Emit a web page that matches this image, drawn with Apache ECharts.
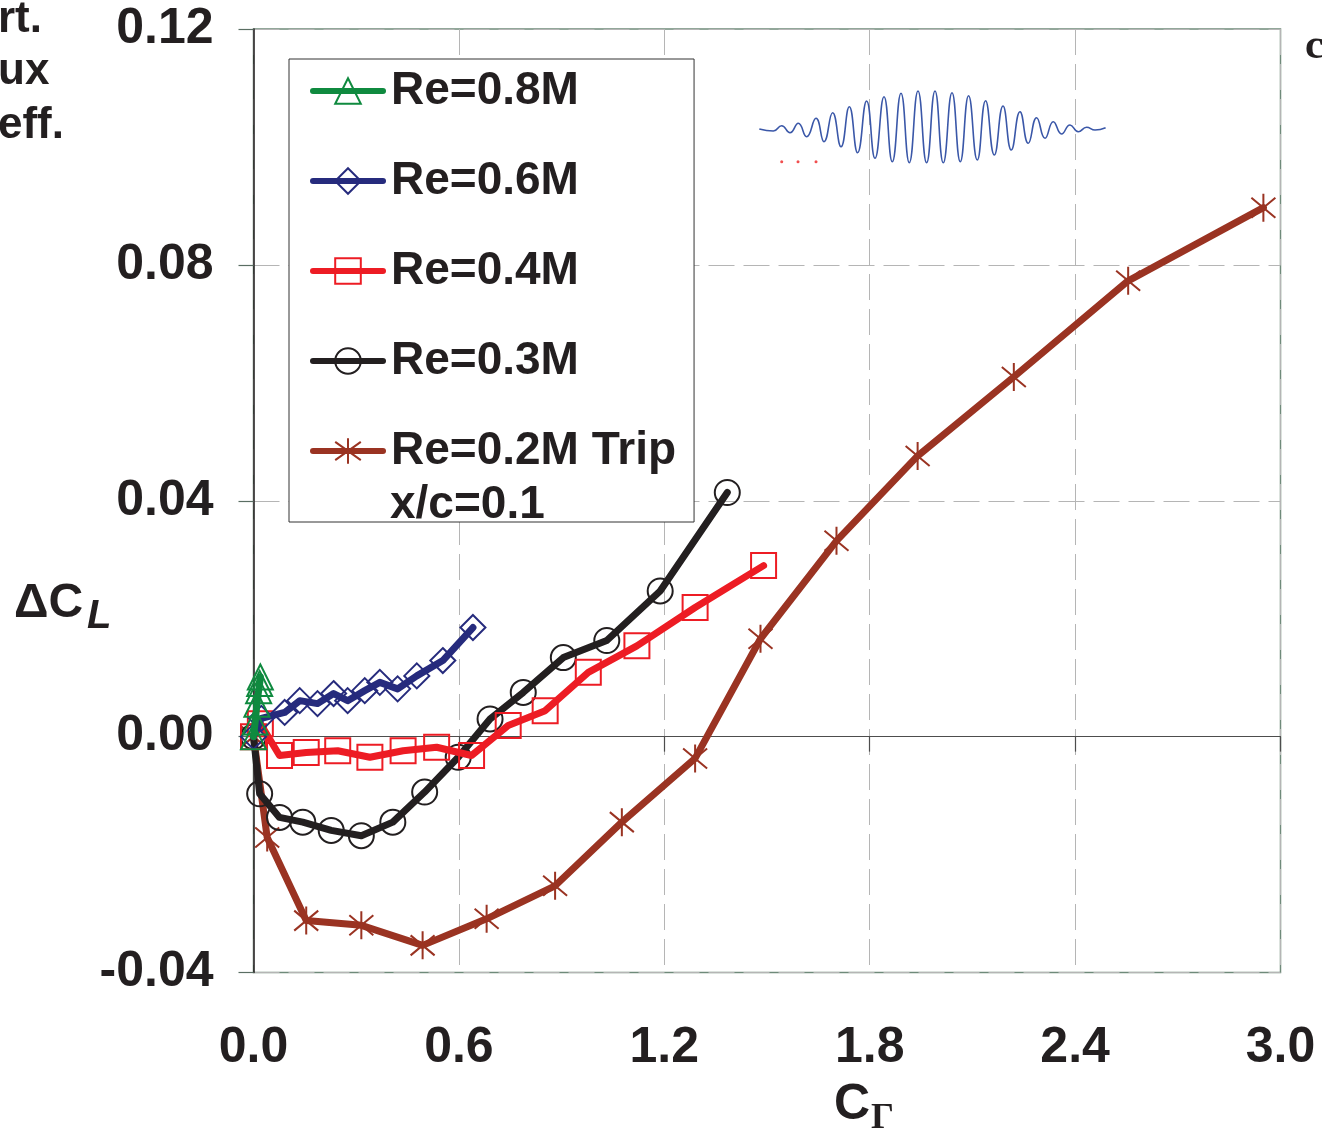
<!DOCTYPE html>
<html>
<head>
<meta charset="utf-8">
<script src="https://cdn.jsdelivr.net/npm/echarts@6/dist/echarts.min.js"></script>
<style>html,body{margin:0;padding:0;background:#fff;}#c{width:1322px;height:1139px;}</style>
</head>
<body>
<div id="c"></div>
<script>
// ---- data ----
const xTickLabels = ['0.0', '0.6', '1.2', '1.8', '2.4', '3.0'];
const yTickLabels = ['-0.04', '0.00', '0.04', '0.08', '0.12'];

const re08X = [0, 0.005, 0.010, 0.015, 0.018, 0.020];
const re08Y = [0, 0.0025, 0.0055, 0.0078, 0.0090, 0.0101];

const re06X = [0, 0.023, 0.091, 0.135, 0.187, 0.234, 0.275, 0.325, 0.369, 0.421, 0.477, 0.553, 0.641];
const re06Y = [0, 0.0031, 0.0041, 0.0061, 0.0056, 0.0073, 0.0061, 0.0078, 0.0092, 0.0081, 0.0103, 0.0129, 0.0185];

const re04X = [0, 0.020, 0.076, 0.154, 0.246, 0.340, 0.437, 0.535, 0.637, 0.744, 0.852, 0.978, 1.120, 1.290, 1.490];
const re04Y = [0, 0.0022, -0.0032, -0.0027, -0.0024, -0.0035, -0.0024, -0.0018, -0.0032, 0.0019, 0.0044, 0.0109, 0.0154, 0.0219, 0.0290];

const re03X = [0, 0.018, 0.076, 0.144, 0.227, 0.315, 0.407, 0.500, 0.598, 0.691, 0.788, 0.905, 1.032, 1.188, 1.384];
const re03Y = [0, -0.0097, -0.0137, -0.0145, -0.0159, -0.0168, -0.0145, -0.0094, -0.0035, 0.0030, 0.0075, 0.0134, 0.0163, 0.0247, 0.0414];

const re02X = [0, 0.040, 0.154, 0.315, 0.494, 0.681, 0.881, 1.076, 1.290, 1.481, 1.703, 1.940, 2.221, 2.555, 2.950];
const re02Y = [0, -0.0171, -0.0312, -0.0320, -0.0354, -0.0309, -0.0253, -0.0145, -0.0037, 0.0166, 0.0332, 0.0476, 0.0610, 0.0773, 0.0897];

const seriesNames = ['Re=0.8M', 'Re=0.6M', 'Re=0.4M', 'Re=0.3M', 'Re=0.2M Trip'];

// inset wave packet: extremes (time, amplitude)
const waveT = [0, 14, 22.3, 30.7, 39, 47.3, 56.7, 64.7, 73.3, 81.7, 90, 98.3, 107.3, 115.7, 124.7, 133, 141.7, 150, 158.7, 167.3, 175.7, 184, 192.7, 201, 209.3, 218, 226.3, 235, 243.7, 252, 260.7, 269, 277.3, 285.7, 294, 302.3, 310.7, 319, 327.3, 335.7, 346.3];
const waveA = [0, -2, 3.3, -3.7, 5.7, -7.7, 10.7, -12.7, 16.3, -17.7, 22.3, -23.7, 28, -29.3, 32.3, -32.7, 35.7, -33.7, 38, -33.7, 38, -33.7, 36.3, -32.7, 33.3, -31, 28.3, -26, 23, -21, 17.3, -14.3, 11.3, -9.3, 7.3, -5, 4, -2.7, 1.7, -1, 1.3];
const dotT = [22.4, 38.7, 56.7];
const dotA = [-32.7, -32.7, -32.7];

// ---- chart ----
const FONT = '"Liberation Sans", Arial, sans-serif';
const zip = (a, b) => a.map((v, i) => [v, b[i]]);
const STAR = 'path://M2,4L26,24M26,4L2,24M14,0L14,28';

function lineSeries(name, xs, ys, color, symbol, size, z) {
  return {
    name: name, type: 'line', xAxisIndex: 0, yAxisIndex: 0,
    data: zip(xs, ys), symbol: symbol, symbolSize: size, symbolKeepAspect: true,
    lineStyle: { color: color, width: 7, cap: 'round', join: 'round' },
    itemStyle: { color: 'rgba(0,0,0,0)', borderColor: color, borderWidth: 2 },
    z: z, animation: false
  };
}

const chart = echarts.init(document.getElementById('c'), null, { renderer: 'canvas' });
const option = {
  animation: false,
  backgroundColor: '#ffffff',
  grid: [
    { left: 253.5, top: 29, width: 1027, height: 943.5, show: true, borderColor: '#6f8a7a', borderWidth: 1.5, backgroundColor: 'rgba(0,0,0,0)' },
    { left: 759.3, top: 89, width: 346.3, height: 80, show: false }
  ],
  xAxis: [
    {
      gridIndex: 0, type: 'value', min: 0, max: 3, interval: 0.6, position: 'bottom',
      axisLine: { show: false, onZero: false }, axisTick: { show: false },
      axisLabel: { margin: 51, fontFamily: FONT, fontWeight: 'bold', fontSize: 50, color: '#231f20',
        formatter: v => xTickLabels[Math.round(v / 0.6)] },
      splitLine: { show: true, lineStyle: { color: '#b5b5b5', width: 1, type: [26, 9] } }
    },
    {
      gridIndex: 0, type: 'value', min: 0, max: 3, interval: 0.6, position: 'bottom',
      axisLine: { show: true, onZero: true, lineStyle: { color: '#4d4d4d', width: 1.2 } },
      axisTick: { show: true, inside: false, length: 15, lineStyle: { color: '#4d4d4d', width: 1.2 } },
      axisLabel: { show: false }, splitLine: { show: false }
    },
    { gridIndex: 1, type: 'value', min: 0, max: 346.3, show: false }
  ],
  yAxis: [
    {
      gridIndex: 0, type: 'value', min: -0.04, max: 0.12, interval: 0.04,
      axisLine: { show: true, onZero: false, lineStyle: { color: '#231f20', width: 1.5 } },
      axisTick: { show: true, inside: false, length: 15, lineStyle: { color: '#5a6e63', width: 1.2 } },
      axisLabel: { margin: 40, fontFamily: FONT, fontWeight: 'bold', fontSize: 50, color: '#231f20',
        formatter: v => yTickLabels[Math.round((v + 0.04) / 0.04)] },
      splitLine: { show: true, lineStyle: { color: '#b5b5b5', width: 1, type: [26, 9] } }
    },
    { gridIndex: 1, type: 'value', min: -40, max: 40, show: false }
  ],
  legend: {
    data: seriesNames, orient: 'vertical', left: 289, top: 59,
    padding: [8, 18, 47, 21], itemGap: 42, itemWidth: 70, itemHeight: 32,
    borderColor: '#333333', borderWidth: 1, backgroundColor: '#ffffff',
    selectedMode: false,
    lineStyle: { width: 6, cap: 'round' },
    textStyle: { fontFamily: FONT, fontWeight: 'bold', fontSize: 46, color: '#231f20', lineHeight: 48, padding: [0, 0, 0, 3] }
  },
  series: [
    lineSeries('Re=0.2M Trip', re02X, re02Y, '#9a3322', STAR, 28, 2),
    lineSeries('Re=0.3M', re03X, re03Y, '#231f20', 'circle', 25, 3),
    lineSeries('Re=0.4M', re04X, re04Y, '#ed1c24', 'rect', 25, 4),
    lineSeries('Re=0.6M', re06X, re06Y, '#262b7d', 'diamond', 25, 5),
    lineSeries('Re=0.8M', re08X, re08Y, '#0f8a3f', 'triangle', 25, 6),
    {
      name: 'wave', type: 'line', xAxisIndex: 2, yAxisIndex: 1, data: zip(waveT, waveA),
      smooth: 0.5, symbol: 'none', lineStyle: { color: '#3a57a8', width: 1.6 }, z: 1, silent: true
    },
    {
      name: 'dots', type: 'scatter', xAxisIndex: 2, yAxisIndex: 1, data: zip(dotT, dotA),
      symbol: 'circle', symbolSize: 3, itemStyle: { color: '#ee2222' }, z: 1, silent: true
    }
  ],
  graphic: [
    { type: 'text', x: 390, y: 505, style: { text: 'x/c=0.1', font: 'bold 46px ' + FONT, fill: '#231f20', align: 'left', verticalAlign: 'middle' }, z: 100 },
    { type: 'text', x: 14, y: 604, style: { text: 'ΔC', font: 'bold 48px ' + FONT, fill: '#231f20', align: 'left', verticalAlign: 'middle' } },
    { type: 'text', x: 87, y: 617, style: { text: 'L', font: 'italic bold 40px ' + FONT, fill: '#231f20', align: 'left', verticalAlign: 'middle' } },
    { type: 'text', x: 834, y: 1105, style: { text: 'C', font: 'bold 50px ' + FONT, fill: '#231f20', align: 'left', verticalAlign: 'middle' } },
    { type: 'text', x: 871, y: 1119, style: { text: 'Γ', font: 'bold 36px "Liberation Serif", serif', fill: '#231f20', align: 'left', verticalAlign: 'middle' } },
    { type: 'text', x: -2, y: 20, style: { text: 'rt.', font: 'bold 44px ' + FONT, fill: '#231f20', align: 'left', verticalAlign: 'middle' } },
    { type: 'text', x: -2, y: 72, style: { text: 'ux', font: 'bold 44px ' + FONT, fill: '#231f20', align: 'left', verticalAlign: 'middle' } },
    { type: 'text', x: -2, y: 126, style: { text: 'eff.', font: 'bold 44px ' + FONT, fill: '#231f20', align: 'left', verticalAlign: 'middle' } },
    { type: 'text', x: 1305, y: 47, style: { text: 'c', font: 'bold 42px "Liberation Serif", serif', fill: '#231f20', align: 'left', verticalAlign: 'middle' } }
  ]
};
chart.setOption(option);
</script>
</body>
</html>
